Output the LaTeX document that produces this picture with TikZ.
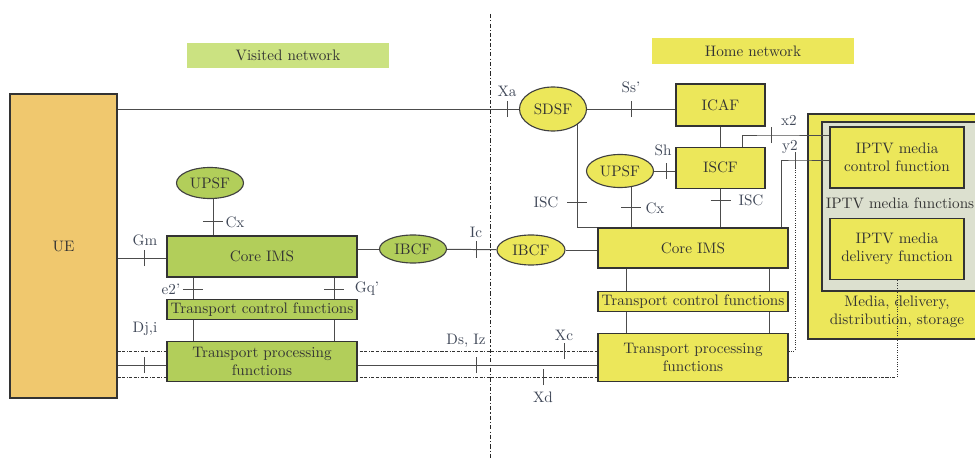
\documentclass[tikz,border=0pt]{standalone}
\usepackage{tikz}
\usetikzlibrary{arrows.meta, positioning, shapes.geometric, calc}

\definecolor{homeyellow}{HTML}{ECE75A}
\definecolor{visgreen}{HTML}{B2CE5A}
\definecolor{vislabel}{HTML}{CBE281}
\definecolor{uefill}{HTML}{F0C86E}
\definecolor{iptvgrey}{HTML}{DCE0CF}
\definecolor{txt}{HTML}{333333}
\definecolor{lbl}{HTML}{404858}

\pgfdeclarelayer{bg}
\pgfsetlayers{bg,main}

\tikzset{
  fbox/.style={draw=black!80, line width=0.8pt, text=txt, inner sep=1pt, align=center},
  fell/.style={ellipse, draw=black!75, line width=0.8pt, text=txt, inner sep=0pt},
  link/.style={draw=black!70, line width=0.7pt},
  bearer/.style={draw=black!80, line width=0.7pt,
    dash pattern=on 2.2pt off 1.1pt on 2.2pt off 1.1pt on 0.5pt off 1.1pt},
  iflabel/.style={text=lbl, inner sep=1pt},
}
\newcommand{\vtick}[1]{\draw[link] ([yshift=-0.2cm]#1) -- ([yshift=0.2cm]#1);}
\newcommand{\htick}[1]{\draw[link] ([xshift=-0.25cm]#1) -- ([xshift=0.25cm]#1);}

\begin{document}
\begin{tikzpicture}[x=0.025cm, y=-0.025cm, font=\fontsize{10.8}{13.2}\selectfont]
  \useasboundingbox (0,0) rectangle (975,459);
  \clip (0,0) rectangle (975,459);

  % network headers
  \node[fill=vislabel, minimum width=5.05cm, minimum height=0.625cm, text=txt] (vis) at (288,55.5) {Visited network};
  \node[fill=homeyellow, minimum width=5.05cm, minimum height=0.65cm, text=txt] (home) at (753,51) {Home network};

  % terminal
  \node[fbox, fill=uefill, minimum width=2.675cm, minimum height=7.6cm] (UE) at (63.5,246) {UE};

  % visited network
  \node[fell, fill=visgreen, minimum width=1.675cm, minimum height=0.775cm] (UPSFv) at (210,183) {UPSF};
  \node[fbox, fill=visgreen, minimum width=4.75cm, minimum height=1.025cm] (coreV) at (262,256.5) {Core IMS};
  \node[fbox, fill=visgreen, minimum width=4.75cm, minimum height=0.5cm,
        below=0.525cm of coreV] (tcfV) {Transport control functions};
  \node[fbox, fill=visgreen, minimum width=4.75cm, minimum height=1.0cm,
        below=0.525cm of tcfV] (tpfV) {Transport processing\\functions};
  \node[fell, fill=visgreen, minimum width=1.675cm, minimum height=0.7cm] (IBCFv) at (413,249) {IBCF};

  % home network
  \node[fell, fill=homeyellow, minimum width=1.675cm, minimum height=1.1cm] (SDSF) at (553,109) {SDSF};
  \node[fbox, fill=homeyellow, minimum width=2.225cm, minimum height=1.05cm] (ICAF) at (720.5,105) {ICAF};
  \node[fbox, fill=homeyellow, minimum width=2.225cm, minimum height=1.025cm,
        below=0.5cm of ICAF] (ISCF) {ISCF};
  \node[fell, fill=homeyellow, minimum width=1.675cm, minimum height=0.825cm] (UPSFh) at (620,171) {UPSF};
  \node[fbox, fill=homeyellow, minimum width=4.75cm, minimum height=1.0cm] (coreH) at (693,248) {Core IMS};
  \node[fbox, fill=homeyellow, minimum width=4.75cm, minimum height=0.5cm,
        below=0.55cm of coreH] (tcfH) {Transport control functions};
  \node[fbox, fill=homeyellow, minimum width=4.75cm, minimum height=1.2cm,
        below=0.525cm of tcfH] (tpfH) {Transport processing\\functions};
  \node[fell, fill=homeyellow, minimum width=1.7cm, minimum height=0.75cm] (IBCFh) at (531,250) {IBCF};

  % IPTV media functions
  \node[fbox, fill=homeyellow, minimum width=4.55cm, minimum height=5.625cm] (mds) at (899,226.5) {};
  \node[fbox, fill=iptvgrey, minimum width=4.075cm, minimum height=4.225cm] (imf) at (903.5,206.5) {};
  \node[fbox, fill=homeyellow, minimum width=3.35cm, minimum height=1.525cm] (mcf) at (897,157.5) {IPTV media\\control function};
  \node[fbox, fill=homeyellow, minimum width=3.35cm, minimum height=1.525cm,
        below=0.725cm of mcf] (mdf) {IPTV media\\delivery function};
  \node[text=txt] (imfl) at (900,203) {IPTV media functions};
  \node[text=txt, align=center] (mdsl) at (897,312) {Media, delivery,\\distribution, storage};

  % reference points
  \coordinate (tXa) at (507,109);
  \coordinate (tSs) at (631,109);
  \coordinate (tSh) at (666,171);
  \coordinate (tx2) at (771,135);
  \coordinate (ty2) at (795,160);
  \coordinate (iscL) at (577,202);
  \coordinate (cxH) at (631,207);
  \coordinate (iscR) at (720.5,200);
  \coordinate (cxV) at (213,221);
  \coordinate (tGm) at (144,258);
  \coordinate (tIc) at (476,249.5);
  \coordinate (te2) at (193,289);
  \coordinate (tGq) at (334,289);
  \coordinate (tDj) at (144,365);
  \coordinate (tDs) at (476,365);
  \coordinate (tXc) at (564,351);
  \coordinate (tXd) at (543,377);
  \coordinate (sepT) at (490,14);
  \coordinate (sepB) at (490,459);

  \begin{pgfonlayer}{bg}
    \draw[black!85, line width=0.7pt, dash pattern=on 3pt off 1.5pt on 0.8pt off 1.5pt] (sepT) -- (sepB);
    % signalling
    \draw[link] (UE.east |- SDSF) -- (SDSF);
    \draw[link] (SDSF) -- (SDSF -| ICAF.west);
    \draw[link] (ICAF) -- (ISCF);
    \draw[link] (UPSFh) -- (UPSFh -| ISCF.west);
    \draw[link] (iscL |- SDSF) |- (coreH.north west);
    \draw[link] (cxH |- UPSFh) -- (cxH |- coreH.north);
    \draw[link] (ISCF) -- (ISCF |- coreH.north);
    \draw[link] (cxV |- UPSFv) -- (cxV |- coreV.north);
    \draw[link] (UE.east |- tGm) -- (coreV.west |- tGm);
    \draw[link] (coreV.east |- IBCFv) -- (IBCFv);
    \draw[link] (IBCFv) -- (IBCFh);
    \draw[link] (IBCFh) -- (IBCFh -| coreH.west);
    \draw[link] (te2 |- coreV.south) -- (te2 |- tpfV.north);
    \draw[link] (tGq |- coreV.south) -- (tGq |- tpfV.north);
    \foreach \p in {0.15,0.9}
      \draw[link] ($(coreH.south west)!\p!(coreH.south east)$)
        -- ($(tpfH.north west)!\p!(tpfH.north east)$);
    % transport
    \draw[link] (UE.east |- tDj) -- (tpfV.west |- tDj);
    \draw[link] (tpfV.east |- tDs) -- (tpfH.west |- tDs);
    \draw[bearer] (UE.east |- tXc) -- (tpfH.west |- tXc);
    \draw[bearer] (UE.east |- tXd) -- (tpfH.west |- tXd);
    \draw[black!80, line width=0.7pt, densely dotted] (tpfH.east |- tXc) -| (ty2);
  \end{pgfonlayer}

  % links into the IPTV block
  \draw[link] (ISCF.north) ++(21.5,0) |- (tx2) -- (tx2 -| mcf.west);
  \draw[link] (coreH.north) ++(88,0) |- (ty2) -- (ty2 -| mcf.west);
  \draw[bearer] (tpfH.east |- tXd) -- (mdf.south |- tXd);
  \draw[black!80, line width=0.7pt, densely dotted] (mdf.south |- tXd) -- (mdf.south);

  % ticks
  \foreach \tp in {tXa,tSs,tSh,tx2,ty2,tGm,tIc,tDj,tDs,tXc,tXd}
    {\vtick{\tp}}
  \foreach \tp in {iscL,cxH,iscR,cxV,te2,tGq}
    {\htick{\tp}}

  % interface labels
  \node[iflabel] at (507,91) {Xa};
  \node[iflabel] at (631,87) {Ss'};
  \node[iflabel] at (663,150) {Sh};
  \node[iflabel] at (789,120) {x2};
  \node[iflabel] at (790,147) {y2};
  \node[iflabel] at (546,202) {ISC};
  \node[iflabel] at (655,208) {Cx};
  \node[iflabel] at (751,200) {ISC};
  \node[iflabel] at (235,222) {Cx};
  \node[iflabel] at (145,240) {Gm};
  \node[iflabel] at (476,232) {Ic};
  \node[iflabel] at (171,289) {e2'};
  \node[iflabel] at (367,289) {Gq'};
  \node[iflabel] at (145,329) {Dj,i};
  \node[iflabel] at (466,341) {Ds, Iz};
  \node[iflabel] at (564,335) {Xc};
  \node[iflabel] at (543,397) {Xd};
\end{tikzpicture}
\end{document}
